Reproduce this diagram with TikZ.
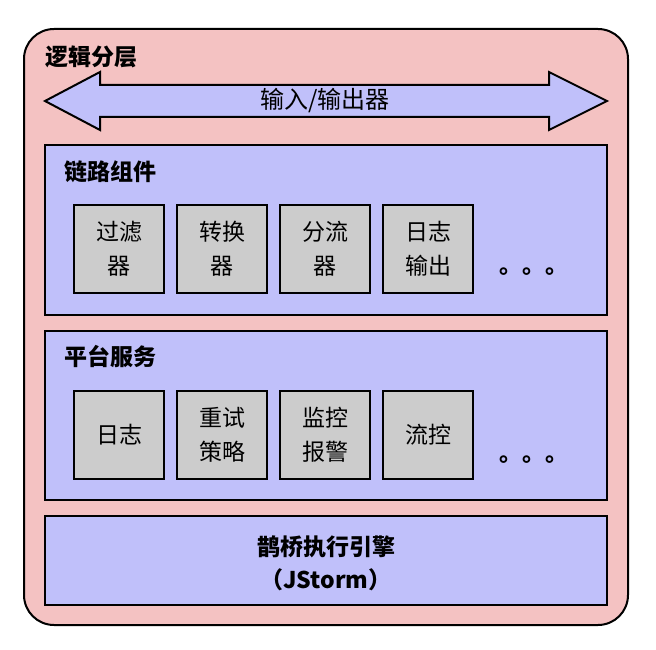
\documentclass[tikz,border=0pt]{standalone}
\usepackage{fontspec}
\setmainfont{Noto Sans CJK SC}
\definecolor{pinkbg}{RGB}{244,194,194}
\definecolor{layerblue}{RGB}{192,192,250}
\definecolor{itemgray}{RGB}{204,204,204}
\begin{document}
\begin{tikzpicture}[x=1pt,y=-1pt,
  outerbox/.style={draw=black,line width=2pt,fill=pinkbg,rounded corners=30pt},
  layerbox/.style={draw=black,line width=2pt,fill=layerblue},
  itembox/.style={draw=black,line width=2pt,fill=itemgray,minimum width=90pt,minimum height=88pt,inner sep=0pt,align=center,font=\fontsize{23}{34}\selectfont},
  titletext/.style={anchor=west,inner sep=0pt,font=\fontsize{23}{26}\selectfont\bfseries},
  dotstext/.style={inner sep=0pt,font=\fontsize{23}{26}\selectfont\bfseries}
]
\useasboundingbox (0,0) rectangle (656,650);
\draw[outerbox] (24,29) rectangle (628,625);
\node[titletext] (title) at (45,57) {逻辑分层};
% double arrow
\draw[layerbox,line join=miter] (45,101) -- (100,72) -- (100,85) -- (549,85) -- (549,72) -- (607,101) -- (549,130) -- (549,117) -- (100,117) -- (100,130) -- cycle;
\node[inner sep=0pt,font=\fontsize{24}{26}\selectfont] (io) at (325,101) {输入/输出器};
% layer 1
\draw[layerbox] (45,145) rectangle (607,315);
\node[titletext] (l1title) at (64,172) {链路组件};
\node[itembox] (a1) at (119,249) {过滤\\器};
\node[itembox] (a2) at (222,249) {转换\\器};
\node[itembox] (a3) at (325,249) {分流\\器};
\node[itembox] (a4) at (428,249) {日志\\输出};
\node[dotstext] (d1) at (534,272) {。。。};
% layer 2
\draw[layerbox] (45,331) rectangle (607,500);
\node[titletext] (l2title) at (64,357) {平台服务};
\node[itembox] (b1) at (119,435) {日志};
\node[itembox] (b2) at (222,435) {重试\\策略};
\node[itembox] (b3) at (325,435) {监控\\报警};
\node[itembox] (b4) at (428,435) {流控};
\node[dotstext] (d2) at (534,460) {。。。};
% layer 3
\draw[layerbox] (45,516) rectangle (607,605);
\node[inner sep=0pt,align=center,font=\fontsize{23}{33}\selectfont\bfseries] (engine) at (326,563) {鹊桥执行引擎\\（JStorm）};
\end{tikzpicture}
\end{document}
